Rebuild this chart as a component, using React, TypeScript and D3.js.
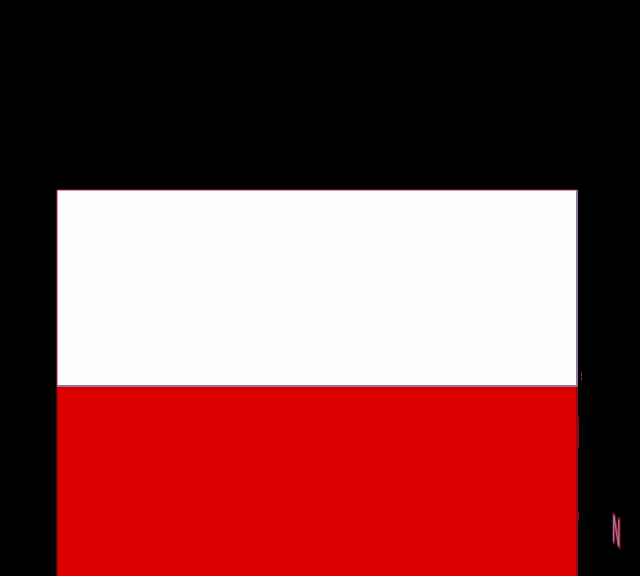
import { useEffect, useRef } from 'react';
import * as d3 from 'd3';

const categories = ['N'];
const whiteValues = [50];
const redValues = [50];
// short dark marks on the right edge of the bar, [from, to] in axis units
const edgeMarks: [number, number][] = [
  [34.2, 42.3],
  [15.8, 17.9],
];
const dottedMark: [number, number] = [51.5, 53.6];

const width = 640;
const height = 576;

export default function App() {
  const chartRef = useRef<SVGSVGElement | null>(null);

  useEffect(() => {
    if (!chartRef.current) return;

    const svg = d3.select(chartRef.current);
    svg.selectAll('*').remove();

    const margin = { top: 190, left: 57, right: 63, bottom: -6 };

    const xScale = d3
      .scaleBand()
      .domain(categories)
      .range([margin.left, width - margin.right]);

    const yScale = d3
      .scaleLinear()
      .domain([0, 100])
      .range([height - margin.bottom, margin.top]);

    svg.append('rect').attr('width', width).attr('height', height).attr('fill', '#000');

    categories.forEach((category, i) => {
      const x = xScale(category) || 0;
      const bw = xScale.bandwidth();
      const yMid = yScale(redValues[i]);
      const yTop = yScale(redValues[i] + whiteValues[i]);
      const yBottom = yScale(0);

      // red part
      svg
        .append('rect')
        .attr('x', x)
        .attr('y', yMid)
        .attr('width', bw)
        .attr('height', yBottom - yMid)
        .attr('fill', '#dc0000');

      // white part
      svg
        .append('rect')
        .attr('x', x)
        .attr('y', yTop)
        .attr('width', bw)
        .attr('height', yMid - yTop)
        .attr('fill', '#fdfcff');

      // borders
      svg
        .append('line')
        .attr('x1', x)
        .attr('x2', x + bw)
        .attr('y1', yTop)
        .attr('y2', yTop)
        .attr('stroke', '#c0283c')
        .attr('stroke-width', 1);
      svg
        .append('line')
        .attr('x1', x)
        .attr('x2', x)
        .attr('y1', yTop)
        .attr('y2', yMid)
        .attr('stroke', '#c0283c')
        .attr('stroke-width', 1);
      svg
        .append('line')
        .attr('x1', x)
        .attr('x2', x)
        .attr('y1', yMid)
        .attr('y2', yBottom)
        .attr('stroke', '#7a0810')
        .attr('stroke-width', 1.5);
      svg
        .append('line')
        .attr('x1', x + bw)
        .attr('x2', x + bw)
        .attr('y1', yTop)
        .attr('y2', yMid)
        .attr('stroke', '#8d7a96')
        .attr('stroke-width', 2);
      svg
        .append('line')
        .attr('x1', x + bw)
        .attr('x2', x + bw)
        .attr('y1', yMid)
        .attr('y2', yBottom)
        .attr('stroke', '#8c0a18')
        .attr('stroke-width', 2);
      svg
        .append('line')
        .attr('x1', x)
        .attr('x2', x + bw)
        .attr('y1', yMid)
        .attr('y2', yMid)
        .attr('stroke', '#8d7a96')
        .attr('stroke-width', 2);

      const xEdge = x + bw;

      edgeMarks.forEach(([from, to]) => {
        svg
          .append('line')
          .attr('x1', xEdge + 1)
          .attr('x2', xEdge + 1)
          .attr('y1', yScale(from))
          .attr('y2', yScale(to))
          .attr('stroke', '#8c0a18')
          .attr('stroke-width', 2);
      });

      svg
        .append('line')
        .attr('x1', xEdge + 4.5)
        .attr('x2', xEdge + 4.5)
        .attr('y1', yScale(dottedMark[0]))
        .attr('y2', yScale(dottedMark[1]))
        .attr('stroke', '#8d6a80')
        .attr('stroke-width', 1)
        .attr('stroke-dasharray', '1 1');

      // stretched, slanted label, bottom right
      svg
        .append('text')
        .attr('transform', 'matrix(0.95, 0.85, 0, 3.0, 612, 540)')
        .attr('font-family', 'DejaVu Sans')
        .attr('font-size', 12)
        .attr('fill', '#9a8a9c')
        .attr('stroke', '#9a0c2c')
        .attr('stroke-width', 1.6)
        .attr('paint-order', 'stroke')
        .text(category);
    });
  }, []);

  return (
    <svg
      ref={chartRef}
      width={width}
      height={height}
      style={{ position: 'absolute', left: 0, top: 0, display: 'block' }}
    />
  );
}
